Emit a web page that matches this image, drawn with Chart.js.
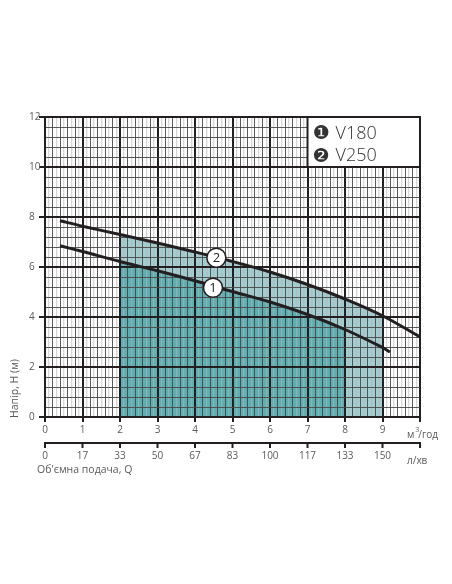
<!DOCTYPE html>
<html><head><meta charset="utf-8">
<script src="https://cdn.jsdelivr.net/npm/chart.js@4.4.1/dist/chart.umd.min.js"></script>
<style>html,body{margin:0;padding:0;background:#fff;}canvas{display:block;}</style>
</head><body>
<canvas id="c" width="452" height="584"></canvas>
<script>
// ---- data (flow in m3/h, head in m) ----
const qV180 = [0.4, 1, 2, 3, 4, 5, 6, 7, 8, 9, 9.2];
const hV180 = [6.85, 6.62, 6.22, 5.85, 5.45, 5.02, 4.6, 4.1, 3.5, 2.78, 2.6];
const qV250 = [0.4, 1, 2, 3, 4, 5, 6, 7, 8, 9, 10];
const hV250 = [7.85, 7.63, 7.3, 6.96, 6.6, 6.22, 5.8, 5.3, 4.72, 4.05, 3.2];
const workRangeV180 = [2, 8];
const workRangeV250 = [2, 9];
const markerQ = [4.48, 4.57];
const markerH = [5.17, 6.37];
const markerText = ['1', '2'];
const legendIcons = ['\u2776', '\u2777'];
const legendNames = ['V180', 'V250'];
const xTickLabels = ['0','1','2','3','4','5','6','7','8','9'];
const yTickLabels = ['0','2','4','6','8','10','12'];
const lpmLabels = ['0','17','33','50','67','83','100','117','133','150'];
const xUnit = 'м', xUnitSup = '3', xUnitRest = '/год';
const lpmUnit = 'л/хв';
const xTitle = "Об'ємна подача, Q";
const yTitle = 'Напір, H (м)';

const FONT = "'Open Sans', 'DejaVu Sans', sans-serif";
const DARK = '#231f20';
const TXT = '#5a5a5a';

function pts(q, h) { return q.map((v, i) => ({x: v, y: h[i]})); }
function inRange(q, h, r) {
  const out = [];
  q.forEach((v, i) => { if (v >= r[0] - 1e-9 && v <= r[1] + 1e-9) out.push({x: v, y: h[i]}); });
  return out;
}

const xKind = v => { const t = Math.round(v * 10); return t % 10 === 0 ? 2 : (t % 2 === 0 ? 1 : 0); };
const yKind = v => { const t = Math.round(v * 10); return t % 20 === 0 ? 2 : 1; };
const gridColor = k => k === 2 ? DARK : (k === 1 ? '#474747' : 'rgba(180,180,180,0.55)');
const gridWidth = k => k === 2 ? 2 : (k === 1 ? 0.9 : 1.3);

const overlay = {
  id: 'overlay',
  afterDraw(chart) {
    const ctx = chart.ctx, xs = chart.scales.x, ys = chart.scales.y;
    ctx.save();
    // legend box
    const bx0 = xs.getPixelForValue(7), bx1 = xs.getPixelForValue(10);
    const by0 = ys.getPixelForValue(12), by1 = ys.getPixelForValue(10);
    ctx.fillStyle = '#fff';
    ctx.fillRect(bx0, by0, bx1 - bx0, by1 - by0);
    ctx.strokeStyle = DARK; ctx.lineWidth = 2;
    ctx.strokeRect(bx0, by0, bx1 - bx0, by1 - by0);
    ctx.fillStyle = '#333';
    ctx.textBaseline = 'alphabetic';
    legendNames.forEach((n, i) => {
      const yb = by0 + 21.5 + i * 22.5;
      ctx.font = "19px 'DejaVu Sans', sans-serif";
      ctx.textAlign = 'center';
      ctx.fillText(legendIcons[i], bx0 + 13.5, yb + 0.5);
      ctx.font = "300 18px " + FONT;
      ctx.textAlign = 'left';
      ctx.fillText(n, bx0 + 28, yb);
    });
    // markers text
    const meta = chart.getDatasetMeta(0);
    ctx.font = "13px " + FONT;
    ctx.fillStyle = '#222';
    ctx.textAlign = 'center'; ctx.textBaseline = 'middle';
    meta.data.forEach((el, i) => { ctx.fillText(markerText[i], el.x, el.y + 0.5); });
    // second (l/min) axis
    const ay = 443;
    ctx.strokeStyle = DARK; ctx.lineWidth = 2;
    ctx.beginPath();
    ctx.moveTo(xs.getPixelForValue(0) - 1, ay); ctx.lineTo(xs.getPixelForValue(10) + 1, ay);
    ctx.stroke();
    ctx.font = "10px " + FONT;
    ctx.fillStyle = TXT;
    ctx.textBaseline = 'middle'; ctx.textAlign = 'center';
    for (let i = 0; i <= 10; i++) {
      const px = xs.getPixelForValue(i);
      ctx.beginPath(); ctx.moveTo(px, ay); ctx.lineTo(px, ay + 5); ctx.stroke();
      if (i < lpmLabels.length) ctx.fillText(lpmLabels[i], px, ay + 13);
    }
    // units
    ctx.textAlign = 'left';
    ctx.font = "10px " + FONT;
    ctx.fillText(xUnit, 407, 435);
    const mw = ctx.measureText(xUnit).width;
    ctx.font = "7px " + FONT;
    ctx.fillText(xUnitSup, 407 + mw + 1, 430);
    ctx.font = "10px " + FONT;
    ctx.fillText(xUnitRest, 407 + mw + 4, 435);
    ctx.fillText(lpmUnit, 407, 461);
    // axis titles
    ctx.font = "10.5px " + FONT;
    ctx.fillText(xTitle, 37, 470);
    ctx.save();
    ctx.translate(15, 418);
    ctx.rotate(-Math.PI / 2);
    ctx.textAlign = 'left';
    ctx.fillText(yTitle, 0, 0);
    ctx.restore();
    ctx.restore();
  }
};

new Chart(document.getElementById('c'), {
  type: 'line',
  data: {
    datasets: [
      { type: 'scatter', data: pts(markerQ, markerH), pointRadius: 9.5, pointHoverRadius: 9.5,
        pointBackgroundColor: '#fff', pointBorderColor: DARK, pointBorderWidth: 1.5, showLine: false },
      { data: pts(qV180, hV180), borderColor: DARK, borderWidth: 3, pointRadius: 0,
        tension: 0.35, fill: false },
      { data: pts(qV250, hV250), borderColor: DARK, borderWidth: 3, pointRadius: 0,
        tension: 0.35, fill: false },
      { data: inRange(qV180, hV180, workRangeV180), borderColor: 'transparent', borderWidth: 0, pointRadius: 0,
        tension: 0.35, fill: 'origin', backgroundColor: '#5cafb3' },
      { data: inRange(qV250, hV250, workRangeV250), borderColor: 'transparent', borderWidth: 0, pointRadius: 0,
        tension: 0.35, fill: 'origin', backgroundColor: '#a2ced2' }
    ]
  },
  options: {
    responsive: false,
    animation: false,
    devicePixelRatio: 1,
    layout: { padding: { top: 117, right: 32, left: 29, bottom: 0 } },
    plugins: { legend: { display: false }, tooltip: { enabled: false }, filler: { drawTime: 'beforeDraw' } },
    scales: {
      x: {
        type: 'linear', min: 0, max: 10,
        afterFit(s) { s.height = 167; s.paddingLeft = 0; s.paddingRight = 0; },
        border: { display: true, color: DARK, width: 2 },
        grid: {
          color: c => gridColor(xKind(c.tick.value)),
          lineWidth: c => gridWidth(xKind(c.tick.value)),
          tickLength: 5,
          tickColor: c => xKind(c.tick.value) === 2 ? DARK : 'transparent',
          tickWidth: 2
        },
        ticks: {
          stepSize: 0.1, autoSkip: false, maxRotation: 0, padding: 2,
          color: TXT, font: { family: FONT, size: 10 },
          callback: v => { const r = Math.round(v); return (Math.abs(v - r) < 1e-6 && r < xTickLabels.length) ? xTickLabels[r] : ''; }
        }
      },
      y: {
        type: 'linear', min: 0, max: 12,
        afterFit(s) { s.width = 16; s.paddingTop = 0; s.paddingBottom = 0; },
        border: { display: true, color: DARK, width: 2 },
        grid: {
          color: c => gridColor(yKind(c.tick.value)),
          lineWidth: c => gridWidth(yKind(c.tick.value)),
          tickLength: 6,
          tickColor: c => yKind(c.tick.value) === 2 ? DARK : 'transparent',
          tickWidth: 2
        },
        ticks: {
          stepSize: 0.4, autoSkip: false, crossAlign: 'far', padding: 3,
          color: TXT, font: { family: FONT, size: 10 },
          callback: v => { const t = Math.round(v * 10); return t % 20 === 0 ? yTickLabels[t / 20] : ''; }
        }
      }
    }
  },
  plugins: [overlay]
});
</script>
</body></html>
